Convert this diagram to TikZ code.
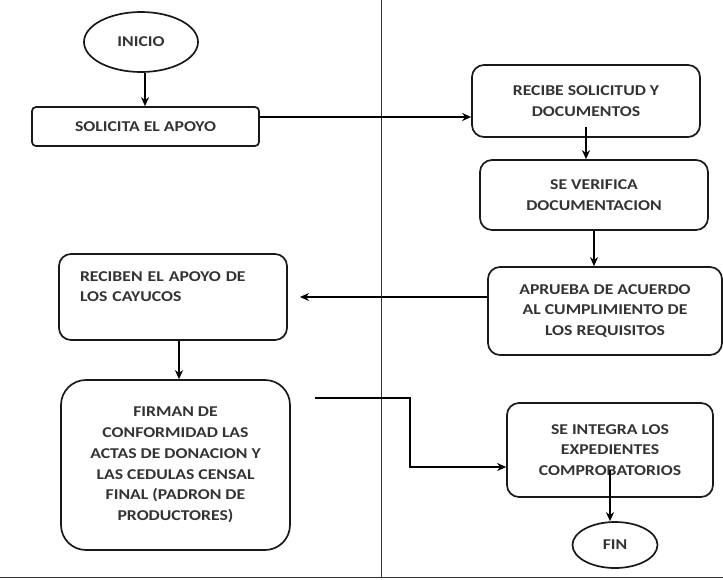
\documentclass[tikz,border=0pt]{standalone}
\usepackage{fontspec}
\setmainfont[FakeStretch=1.18]{Carlito}
\usepackage{tikz}
\usetikzlibrary{shapes.geometric, arrows.meta}
\usetikzlibrary{positioning}

\begin{document}
\begin{tikzpicture}[->,>={Stealth[length=9pt,width=8pt]},line width=1.3pt,x=1pt,y=-1pt]
		\tikzstyle{every node}=[font=\fontsize{15}{20.7}\selectfont\bfseries,text=black!80]
		\tikzstyle{paso}=[draw=black!90,line width=1.7pt,rounded corners=12pt,align=center,inner sep=0pt]
		\tikzstyle{term}=[draw=black!90,line width=1.7pt,ellipse,inner sep=0pt]
		\useasboundingbox (0,0) rectangle (723,579);
		% carriles
		\draw[-,line width=1pt,black!80] (381,0) -- (381,577);
		\draw[-,line width=1pt,black!80] (0,577) -- (723,577);
		% nodos
		\node[term,minimum width=114pt,minimum height=60pt]    (inicio)   at (141,42)    {INICIO};
		\node[paso,rounded corners=4pt,minimum width=227pt,minimum height=39pt] (solicita) at (145.5,126.5) {SOLICITA EL APOYO};
		\node[paso,minimum width=228pt,minimum height=72pt]   (recibe)   at (586,101)   {RECIBE SOLICITUD Y\\DOCUMENTOS};
		\node[paso,minimum width=228pt,minimum height=70pt]   (verifica) at (594,195)   {SE VERIFICA\\DOCUMENTACION};
		\node[paso,minimum width=234pt,minimum height=88pt]   (aprueba)  at (605,311)   {APRUEBA DE ACUERDO\\AL CUMPLIMIENTO DE\\LOS REQUISITOS};
		\node[paso,minimum width=228pt,minimum height=86pt,text width=186pt,align=left] (reciben) at (173,297) {RECIBEN EL APOYO DE\\LOS CAYUCOS\\\mbox{}};
		\node[paso,rounded corners=25pt,minimum width=229pt,minimum height=170pt] (firman) at (175.5,465) {FIRMAN DE\\CONFORMIDAD LAS\\ACTAS DE DONACION Y\\LAS CEDULAS CENSAL\\FINAL (PADRON DE\\PRODUCTORES)};
		\node[paso,minimum width=206pt,minimum height=94pt]   (integra)  at (610,450)   {SE INTEGRA LOS\\EXPEDIENTES\\COMPROBATORIOS};
		\node[term,minimum width=85pt,minimum height=46pt]     (fin)      at (615,545)   {FIN};
		% puntos de paso
		\coordinate (c1) at (0,117);
		\coordinate (c2) at (300,297);
		\coordinate (c3) at (315,398);
		\coordinate (c5) at (410,467);
		% flechas
		\draw ([xshift=4pt]inicio.south) -- ([xshift=4pt]inicio.south |- solicita.north);
		\draw (solicita.east |- c1) -- (recibe.west |- c1);
		\draw ([yshift=11pt]recibe.south) -- (recibe.south |- verifica.north);
		\draw (verifica.south) -- (verifica.south |- aprueba.north);
		\draw (aprueba.west |- c2) -- (c2);
		\draw ([xshift=6pt]reciben.south) -- ([xshift=6pt]reciben.south |- firman.north);
		\draw (c3) -| (c5) -- (integra.west |- c5);
		\draw ([yshift=-20pt]integra.center) -- (integra.center |- fin.north);
\end{tikzpicture}
\end{document}
